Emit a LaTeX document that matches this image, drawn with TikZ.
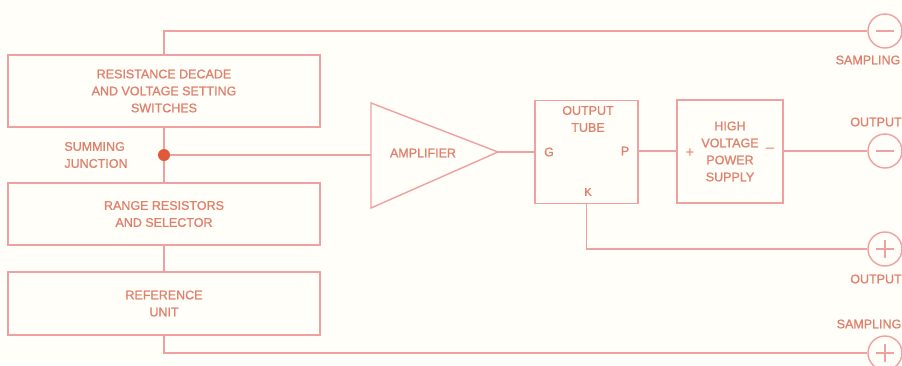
\documentclass[tikz,border=0pt]{standalone}
\usepackage{fontspec}
\setmainfont{Liberation Sans}
\newfontfamily\lblfont[FakeBold=1]{Liberation Sans}
\definecolor{ln}{HTML}{F0A0A0}
\definecolor{tx}{HTML}{E0806C}
\definecolor{dotc}{HTML}{E05A3A}
\definecolor{bg}{HTML}{FFFEF8}
\begin{document}
\begin{tikzpicture}[x=1pt,y=-1pt,
  wire/.style={draw=ln, line width=1.4pt},
  blk/.style={draw=ln, line width=1.4pt, rectangle, inner sep=0pt, text=tx, align=center,
    font=\lblfont\fontsize{12.5}{17}\selectfont},
  lbl/.style={text=tx, inner sep=0pt, align=center, font=\lblfont\fontsize{12.5}{17}\selectfont},
  term/.style={draw=ln, line width=1.4pt, circle, minimum size=34pt, inner sep=0pt},
  jdot/.style={circle, fill=dotc, minimum size=12pt, inner sep=0pt}]
\fill[bg] (0,0) rectangle (902,365);
\useasboundingbox (0,0) rectangle (902,365);

% left column
\node[blk, minimum width=312pt, minimum height=72pt] (rd) at (164,91)
  {RESISTANCE DECADE\\AND VOLTAGE SETTING\\SWITCHES};
\node[blk, minimum width=312pt, minimum height=62pt] (rr) at (164,214)
  {RANGE RESISTORS\\AND SELECTOR};
\node[blk, minimum width=312pt, minimum height=63pt] (ru) at (164,303.5)
  {REFERENCE\\UNIT};
\node[jdot] (sj) at (164,155) {};
\node[lbl, align=left] (sjl) at (96,155) {SUMMING\\JUNCTION};

% amplifier
\coordinate (ampin) at (371,153);
\coordinate (ampout) at (498,152);
\draw[wire, line join=miter] (371,103) -- (ampout) -- (371,208) -- cycle;
\node[lbl] (ampl) at (423,153) {AMPLIFIER};

% output tube
\node[blk, minimum width=103pt, minimum height=103pt] (tube) at (586.5,152) {};
\node[lbl] (tubel) at (588,119) {OUTPUT\\TUBE};
\node[lbl] (g) at (549,152) {G};
\node[lbl] (p) at (625,151) {P};
\node[lbl, font=\lblfont\fontsize{11}{13}\selectfont] (k) at (588,192) {K};

% HV supply
\node[blk, minimum width=106pt, minimum height=103pt] (hv) at (730,151.5)
  {HIGH\\VOLTAGE\\POWER\\SUPPLY};
\node[lbl, font=\fontsize{15}{17}\selectfont] (hvp) at (690,153) {+};
\node[lbl, font=\fontsize{15}{17}\selectfont] (hvm) at (770,150) {--};

% terminals
\node[term] (s1) at (885,31) {};
\node[term] (o1) at (885,151) {};
\node[term] (o2) at (885,249) {};
\node[term] (s2) at (885,353) {};
\draw[wire] ([xshift=-9pt]s1.center) -- ([xshift=9pt]s1.center);
\draw[wire] ([xshift=-9pt]o1.center) -- ([xshift=9pt]o1.center);
\draw[wire] ([xshift=-9pt]o2.center) -- ([xshift=9pt]o2.center)
            ([yshift=-9pt]o2.center) -- ([yshift=9pt]o2.center);
\draw[wire] ([xshift=-9pt]s2.center) -- ([xshift=9pt]s2.center)
            ([yshift=-9pt]s2.center) -- ([yshift=9pt]s2.center);
\node[lbl] (s1l) at (868,60) {SAMPLING};
\node[lbl] (o1l) at (876,122) {OUTPUT};
\node[lbl] (o2l) at (876,279) {OUTPUT};
\node[lbl] (s2l) at (869,324) {SAMPLING};

% connectors
\draw[wire] (rd.north) |- (s1.west);
\draw[wire] (rd.south) -- (sj) -- (rr.north);
\draw[wire] (sj) -- (sj -| ampin);
\draw[wire] (ampout) -- (ampout -| tube.west);
\draw[wire] (tube.east |- p) -- (p -| hv.west);
\draw[wire] (hv.east |- o1) -- (o1.west);
\draw[wire] (tube.south) |- (o2.west);
\draw[wire] (rr.south) -- (ru.north);
\draw[wire] (ru.south) |- (s2.west);
\end{tikzpicture}
\end{document}
